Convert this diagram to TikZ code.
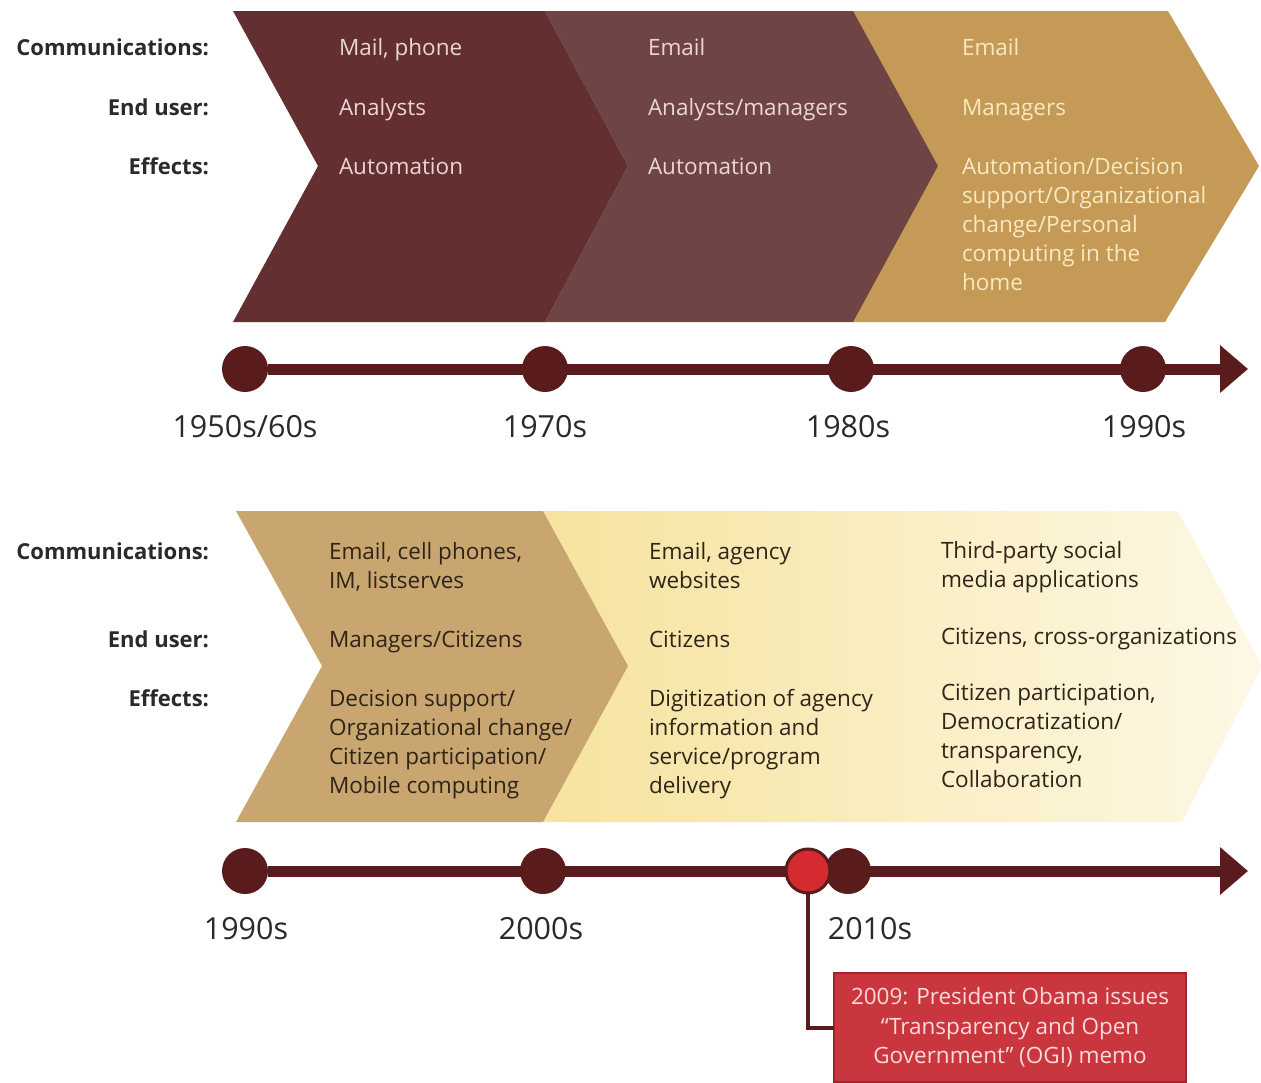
\documentclass[tikz,border=0pt]{standalone}
\usepackage{fontspec}
\setmainfont{Open Sans}
\usetikzlibrary{arrows.meta}
\definecolor{chA}{HTML}{632F30}
\definecolor{chB}{HTML}{6F4445}
\definecolor{chC}{HTML}{C49A56}
\definecolor{chD}{HTML}{C9A56F}
\definecolor{chE}{HTML}{F6E39E}
\definecolor{chF}{HTML}{FDF8E6}
\definecolor{txtA}{HTML}{EDD5D0}
\definecolor{txtC}{HTML}{FAE8C0}
\definecolor{txtD}{HTML}{2E2418}
\definecolor{lblc}{HTML}{2A2A2A}
\definecolor{tl}{HTML}{5A1B1D}
\definecolor{redc}{HTML}{D42A30}
\definecolor{boxc}{HTML}{C9363E}
\definecolor{boxb}{HTML}{A2252B}
\definecolor{boxt}{HTML}{FBDADA}
\begin{document}
\begin{tikzpicture}[x=1pt,y=-1pt,
 every node/.style={inner sep=0pt, outer sep=0pt},
 body/.style={font=\fontsize{22.5}{29}\selectfont, align=left, anchor=base west},
 rowlbl/.style={font=\fontsize{22}{29}\selectfont\bfseries, text=lblc, anchor=base east},
 yr/.style={font=\fontsize{30.5}{34}\selectfont, text=lblc, anchor=base},
 dot/.style={circle, fill=tl, minimum size=46pt},
 tline/.style={draw=tl, line width=11pt},
 memo/.style={fill=boxc, draw=boxb, line width=1.5pt, text=boxt, align=center,
   minimum width=352pt, minimum height=109pt, font=\fontsize{22.5}{29.5}\selectfont},
]
\useasboundingbox (0,0) rectangle (1261,1082);
\fill[white] (0,0) rectangle (1261,1082);

% ---- top chevrons
\fill[chC] (852,11) -- (1168,11) -- (1259,166) -- (1165,322) -- (852,322) -- (938,166) -- cycle;
\fill[chB] (545,11) -- (853,11) -- (938,166) -- (853,322) -- (545,322) -- (628,166) -- cycle;
\fill[chA] (233,11) -- (545,11) -- (628,166) -- (545,322) -- (233,322) -- (318,166) -- cycle;

% ---- top row labels
\node[rowlbl] (lc1) at (209,55) {Communications:};
\node[rowlbl] (le1) at (209,115) {End user:};
\node[rowlbl] (lf1) at (209,174) {Effects:};

% ---- top texts (multi-line nodes are placed by their last baseline)
\node[body, text=txtA] (a1) at (339,55) {Mail, phone};
\node[body, text=txtA] (a2) at (339,115) {Analysts};
\node[body, text=txtA] (a3) at (339,174) {Automation};
\node[body, text=txtA] (b1) at (648,55) {Email};
\node[body, text=txtA] (b2) at (648,115) {Analysts/managers};
\node[body, text=txtA] (b3) at (648,174) {Automation};
\node[body, text=txtC] (c1) at (962,55) {Email};
\node[body, text=txtC] (c2) at (962,115) {Managers};
\node[body, text=txtC] (c3) at (962,290) {Automation/Decision\\support/Organizational\\change/Personal\\computing in the\\home};

% ---- top timeline
\node[dot] (t1) at (245,369) {};
\node[dot] (t2) at (545,369) {};
\node[dot] (t3) at (851,369) {};
\node[dot] (t4) at (1143,369) {};
\coordinate (tipA) at (1248,369);
\draw[tline, -{Triangle[length=28pt 0, width=46pt 0]}] (t1) -- (tipA);
\node[yr] (y1) at (245,437) {1950s/60s};
\node[yr] (y2) at (545,437) {1970s};
\node[yr] (y3) at (848,437) {1980s};
\node[yr] (y4) at (1144,437) {1990s};

% ---- bottom chevrons
\shade[left color=chE, right color=chF] (543,511) -- (1178,511) -- (1262,666) -- (1182,822) -- (543,822) -- (628,666) -- cycle;
\fill[chD] (236,511) -- (543,511) -- (628,666) -- (543,822) -- (236,822) -- (322,666) -- cycle;

% ---- bottom row labels
\node[rowlbl] (lc2) at (209,559) {Communications:};
\node[rowlbl] (le2) at (209,647) {End user:};
\node[rowlbl] (lf2) at (209,706) {Effects:};

% ---- bottom texts
\node[body, text=txtD] (d1) at (329,588) {Email, cell phones,\\IM, listserves};
\node[body, text=txtD] (d2) at (329,647) {Managers/Citizens};
\node[body, text=txtD] (d3) at (329,793) {Decision support/\\Organizational change/\\Citizen participation/\\Mobile computing};
\node[body, text=txtD] (e1) at (649,588) {Email, agency\\websites};
\node[body, text=txtD] (e2) at (649,647) {Citizens};
\node[body, text=txtD] (e3) at (649,793) {Digitization of agency\\information and\\service/program\\delivery};
\node[body, text=txtD] (f1) at (941,587) {Third-party social\\media applications};
\node[body, text=txtD] (f2) at (941,644) {Citizens, cross-organizations};
\node[body, text=txtD] (f3) at (941,787) {Citizen participation,\\Democratization/\\transparency,\\Collaboration};

% ---- bottom timeline
\node[dot] (s1) at (245,871) {};
\node[dot] (s2) at (543,871) {};
\node[dot] (s3) at (848,871) {};
\coordinate (tipB) at (1248,871);
\draw[tline, -{Triangle[length=28pt 0, width=46pt 0]}] (s1) -- (tipB);
\node[dot, fill=redc, draw=tl, line width=3pt, minimum size=44pt] (red) at (808,871) {};
\node[yr] (z1) at (246,939) {1990s};
\node[yr] (z2) at (541,939) {2000s};
\node[yr] (z3) at (870,939) {2010s};

% ---- memo
\node[memo] (memo) at (1010,1027.5) {2009: President Obama issues\\“Transparency and Open\\Government” (OGI) memo};
\draw[draw=tl, line width=4pt] (red.south) |- (memo.west);
\end{tikzpicture}
\end{document}
